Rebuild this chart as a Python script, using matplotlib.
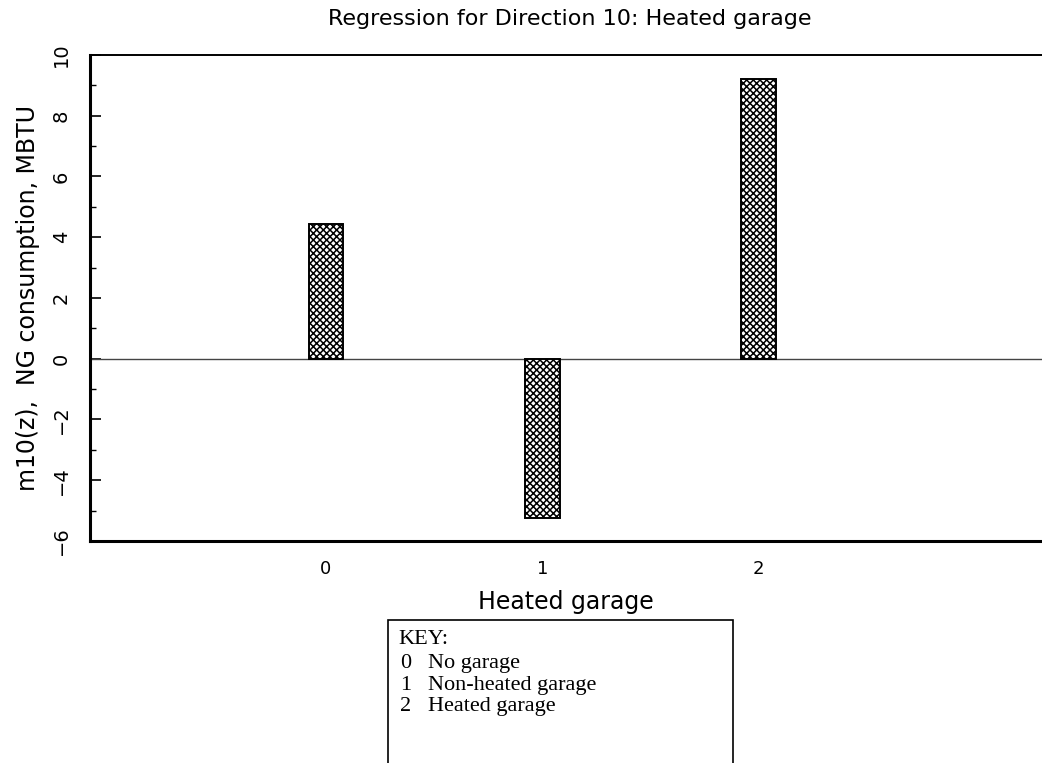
import matplotlib
matplotlib.use("Agg")
import matplotlib.pyplot as plt
from matplotlib.patches import Rectangle
from matplotlib.ticker import MultipleLocator

categories = ["0", "1", "2"]
values = [4.45, -5.25, 9.2]
key_codes = ["0", "1", "2"]
key_labels = ["No garage", "Non-heated garage", "Heated garage"]

plt.rcParams['hatch.linewidth'] = 1.1
fig = plt.figure(figsize=(10.42, 7.63), dpi=100)
ax = fig.add_axes([0.0864, 0.291, 0.9136, 0.637])

x = list(range(len(categories)))
ax.bar(x, values, width=0.16, facecolor="white", edgecolor="black",
       hatch="xxxxx", linewidth=1.4, zorder=3)
ax.axhline(0, color="#444444", linewidth=1.0, zorder=2)

ax.set_xlim(-1.09, 3.31)
ax.set_ylim(-6, 10)
ax.set_xticks(x)
ax.set_xticklabels(categories, fontsize=13, family="DejaVu Sans")
ax.tick_params(axis="x", length=0, pad=14)
ax.yaxis.set_major_locator(MultipleLocator(2))
ax.yaxis.set_minor_locator(MultipleLocator(1))
ax.tick_params(axis="y", which="major", direction="in", length=8, width=1.2,
               labelrotation=90, labelsize=14, pad=14)
ax.tick_params(axis="y", which="minor", direction="in", length=4, width=1.0)
for lbl in ax.get_yticklabels():
    lbl.set_verticalalignment("center")

ax.spines["right"].set_visible(False)
ax.spines["left"].set_linewidth(2.2)
ax.spines["bottom"].set_linewidth(2.2)
ax.spines["top"].set_linewidth(1.4)

ax.set_ylabel("m10(z),  NG consumption, MBTU", fontsize=17, labelpad=8)
ax.set_xlabel("Heated garage", fontsize=17, labelpad=8)
fig.text(0.547, 0.975, "Regression for Direction 10: Heated garage",
         ha="center", va="center", fontsize=16)

# key box
fig.add_artist(Rectangle((0.372, -0.01), 0.331, 0.197, transform=fig.transFigure,
                         facecolor="white", edgecolor="black", linewidth=1.2))
fig.text(0.382, 0.162, "KEY:", fontsize=16, family="Liberation Serif",
         ha="left", va="center")
ys = [0.130, 0.102, 0.074]
for code, lab, yy in zip(key_codes, key_labels, ys):
    fig.text(0.384, yy, code, fontsize=16, family="Liberation Serif",
             ha="left", va="center")
    fig.text(0.411, yy, lab, fontsize=16, family="Liberation Serif",
             ha="left", va="center")

fig.savefig("out.png", dpi=100)
